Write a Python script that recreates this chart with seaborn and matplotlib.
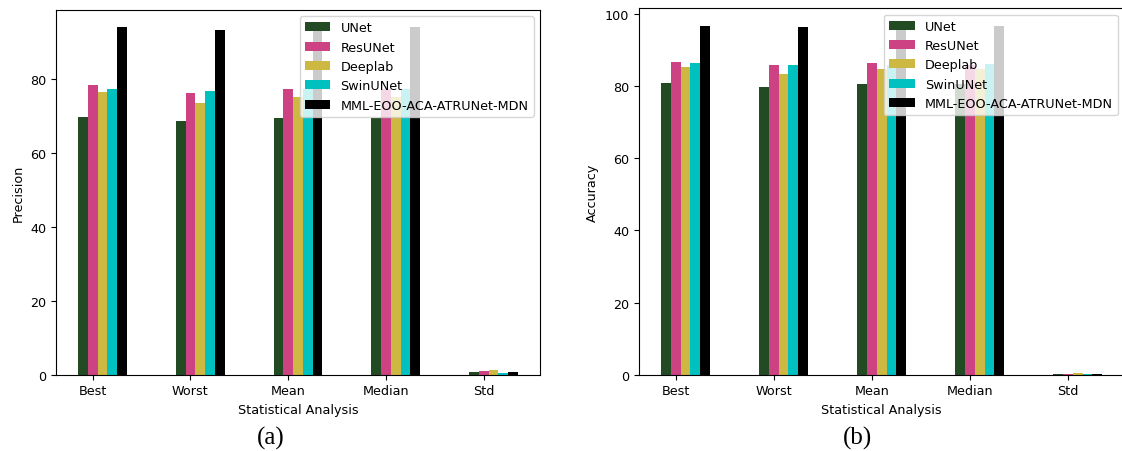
import pandas as pd
import matplotlib.pyplot as plt
import seaborn as sns

# Categorias e modelos
estatisticas = ['Best', 'Worst', 'Mean', 'Median', 'Std']
modelos = ['UNet', 'ResUNet', 'Deeplab', 'SwinUNet', 'MML-EOO-ACA-ATRUNet-MDN']
cores = ['#224b24', '#cc4282', '#cdb941', '#00c0c0', '#000000']

# Valores (a) Precision
precision_unet = [69.8, 68.7, 69.5, 69.7, 0.7]
precision_resunet = [78.5, 76.4, 77.5, 77.5, 0.9]
precision_deeplab = [76.5, 73.7, 75.3, 75.3, 1.3]
precision_swinunet = [77.5, 76.8, 77.3, 77.3, 0.4]
precision_mml = [94.2, 93.4, 94.0, 94.2, 0.7]

# Valores (b) Accuracy
accuracy_unet = [80.9, 79.9, 80.6, 80.7, 0.3]
accuracy_resunet = [86.7, 86.0, 86.3, 86.0, 0.3]
accuracy_deeplab = [85.2, 83.3, 84.8, 84.8, 0.5]
accuracy_swinunet = [86.5, 86.0, 86.0, 86.2, 0.3]
accuracy_mml = [96.8, 96.5, 96.7, 96.8, 0.3]

plt.rcParams['font.size'] = 9.2


def montar_df(series):
    linhas = []
    for modelo, valores in zip(modelos, series):
        for est, v in zip(estatisticas, valores):
            linhas.append({'stat': est, 'model': modelo, 'value': v})
    return pd.DataFrame(linhas)


df_precision = montar_df([precision_unet, precision_resunet, precision_deeplab,
                          precision_swinunet, precision_mml])
df_accuracy = montar_df([accuracy_unet, accuracy_resunet, accuracy_deeplab,
                         accuracy_swinunet, accuracy_mml])

fig = plt.figure(figsize=(11.22, 4.52), dpi=100)
ax1 = fig.add_axes([0.0499, 0.1688, 0.4314, 0.8075])
ax2 = fig.add_axes([0.5695, 0.1688, 0.4325, 0.811])

for ax, df, rotulo in [(ax1, df_precision, 'Precision'), (ax2, df_accuracy, 'Accuracy')]:
    sns.barplot(data=df, x='stat', y='value', hue='model', hue_order=modelos,
                order=estatisticas, palette=cores, width=0.5, saturation=1,
                errorbar=None, ax=ax)
    ax.set_xticks([i - 0.1 for i in range(len(estatisticas))])
    ax.set_xticklabels(estatisticas)
    ax.set_xlim(-0.475, 4.475)
    ax.set_ylim(0, df['value'].max() * 1.05)
    ax.set_xlabel('Statistical Analysis')
    ax.set_ylabel(rotulo)
    # refazer a legenda com o estilo padrão do matplotlib
    leg = ax.get_legend()
    handles = leg.legend_handles
    labels = [t.get_text() for t in leg.get_texts()]
    leg.remove()
    ax.legend(handles, labels, loc='upper right')

fig.text(0.2415, 0.03, '(a)', ha='center', va='center', fontsize=18, family='Liberation Serif')
fig.text(0.7647, 0.03, '(b)', ha='center', va='center', fontsize=18, family='Liberation Serif')

plt.savefig('out.png', dpi=100)
